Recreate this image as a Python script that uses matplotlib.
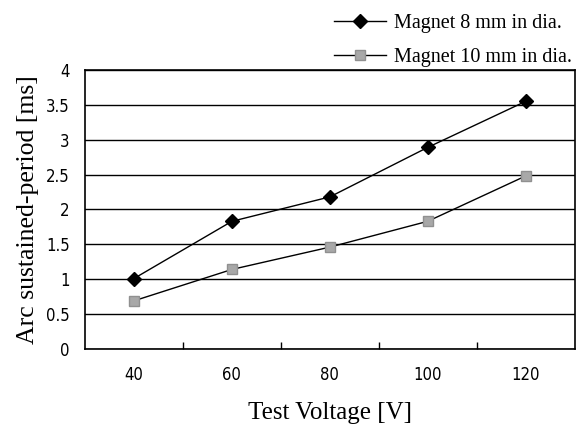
import numpy as np
import matplotlib
matplotlib.use('Agg')
import matplotlib.pyplot as plt

# test voltages and arc sustained-period readings
voltages = ['40', '60', '80', '100', '120']
mag8 = [1.01, 1.83, 2.18, 2.89, 3.55]
mag10 = [0.69, 1.14, 1.46, 1.83, 2.48]
labels = ['Magnet 8 mm in dia.', 'Magnet 10 mm in dia.']

serif = ['Liberation Serif', 'DejaVu Serif']

fig = plt.figure(figsize=(5.76, 4.24), dpi=100)
ax = fig.add_axes([0.1476, 0.177, 0.850, 0.658])

x = np.arange(len(voltages))
ax.plot(x, mag8, color='black', lw=1.0, marker='D', ms=7,
        mfc='black', mec='black', label=labels[0], zorder=3)
ax.plot(x, mag10, color='black', lw=1.0, marker='s', ms=6.5,
        mfc='#a8a8a8', mec='#909090', label=labels[1], zorder=3)

ax.set_xlim(-0.5, len(voltages) - 0.5)
ax.set_ylim(0, 4)

# horizontal grid every 0.5
yt = np.arange(0, 4.01, 0.5)
ax.set_yticks(yt)
ax.set_yticklabels(['0', '0.5', '1', '1.5', '2', '2.5', '3', '3.5', '4'])
ax.yaxis.grid(True, color='black', lw=1.0)
ax.set_axisbelow(True)

ax.set_xticks(x)
ax.set_xticklabels(voltages)
ax.set_xticks(x[:-1] + 0.5, minor=True)
ax.tick_params(axis='x', which='major', length=0, pad=12)
ax.tick_params(axis='x', which='minor', direction='in', length=5, width=1)
ax.tick_params(axis='y', length=0, pad=11)
for lbl in ax.get_xticklabels() + ax.get_yticklabels():
    lbl.set_family('DejaVu Sans')
    lbl.set_stretch('condensed')
    lbl.set_fontsize(12)

for s in ax.spines.values():
    s.set_linewidth(1.2)

ax.set_xlabel('Test Voltage [V]', family=serif, fontsize=18, labelpad=13)
ax.set_ylabel('Arc sustained-period [ms]', family=serif, fontsize=18.5, labelpad=5)

fig.legend(loc='upper right', bbox_to_anchor=(1.025, 1.01), frameon=False,
           prop={'family': serif, 'size': 14.5}, handlelength=2.6,
           handletextpad=0.4, labelspacing=0.75)

fig.savefig('out.png', dpi=100)
